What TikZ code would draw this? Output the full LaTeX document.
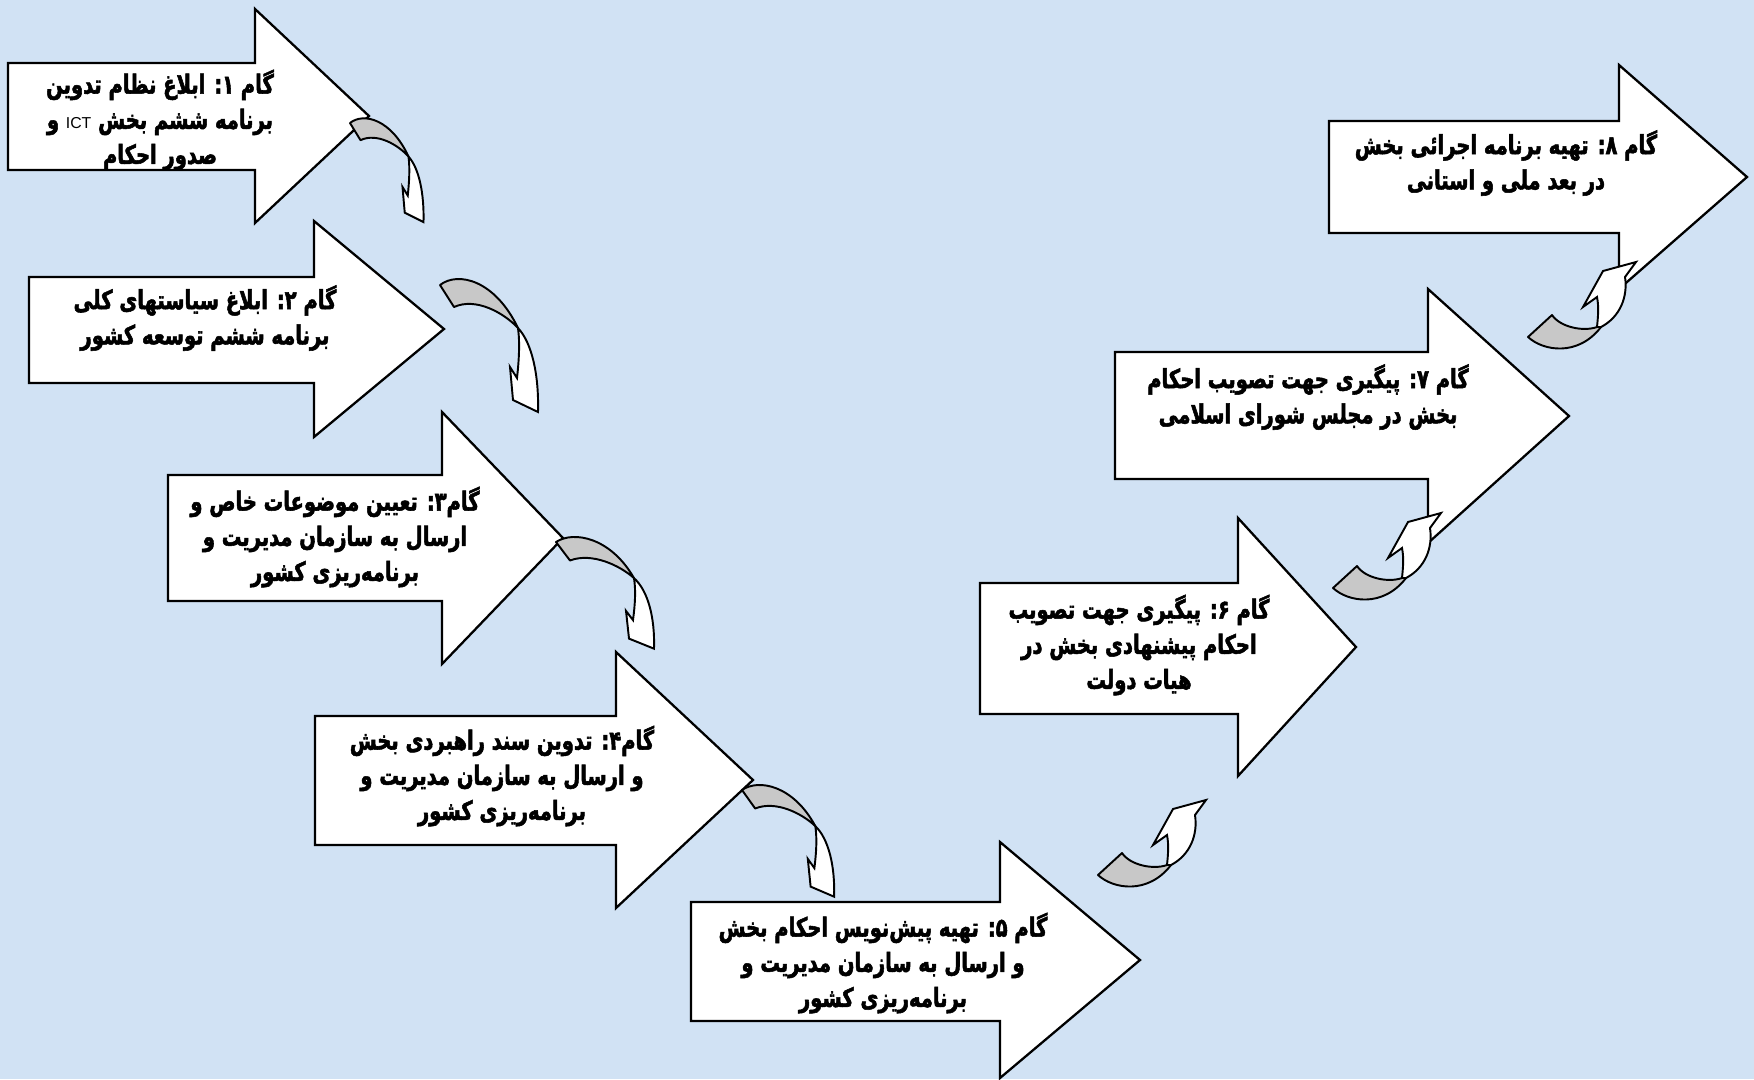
\documentclass[tikz,border=0pt]{standalone}
\usepackage{fontspec}
\newfontfamily\fafont[Script=Arabic,FakeStretch=0.74,BoldFont={DejaVu Sans Bold},BoldFeatures={FakeBold=2}]{DejaVu Sans}
\newfontfamily\latinfont{Liberation Sans}
\TeXXeTstate=1
\newcommand\rl[1]{\beginR#1\endR}
\definecolor{bgblue}{RGB}{209,226,244}
\definecolor{foldgray}{RGB}{200,200,200}
\tikzset{
  stepshape/.style={draw=black, fill=white, line width=1.3pt},
  steptext/.style={font=\fafont\bfseries\fontsize{15}{20}\selectfont, align=center, inner sep=0pt},
  foldpart/.style={draw=black, fill=foldgray, line width=1.1pt, line join=round},
  facepart/.style={draw=black, fill=white, line width=1.1pt},
}
% curved link going down, #1 = origin, #2 = scaling
\newcommand\bendown[2]{%
  \begin{scope}[shift={#1},#2]
    \draw[foldpart] (0,0) .. controls (18,-14) and (55,-5) .. (78,43)
      .. controls (64,28) and (36,12) .. (14,22) -- cycle;
    \draw[facepart] (78,43) .. controls (92,58) and (99,90) .. (98,127)
      -- (73,115) -- (70,82) -- (77,93) .. controls (79,75) and (80,58) .. (78,43) -- cycle;
  \end{scope}}
% curved link going up
\newcommand\bendup[2]{%
  \begin{scope}[shift={#1},#2]
    \draw[foldpart] (0,0) .. controls (15,14) and (50,20) .. (73,-10) -- (69,-10)
      .. controls (55,-5) and (32,-10) .. (24,-22) -- cycle;
    \draw[facepart] (69,-10) -- (73,-10) .. controls (92,-20) and (100,-40) .. (97,-60)
      -- (108,-75) -- (75,-66) -- (55,-30) -- (69,-40) .. controls (71,-30) and (70,-20) .. (69,-10) -- cycle;
  \end{scope}}

\begin{document}
\begin{tikzpicture}[x=0.02cm,y=-0.02cm]
  \fill[bgblue] (0,0) rectangle (1754,1079);
  \useasboundingbox (0,0) rectangle (1754,1079);

  % step arrows: left/top/bottom/head base/head top/tip x/tip y
  \foreach \l/\t/\b/\hb/\ht/\tx/\ty in {8/63/170/255/9/369/116, 29/277/383/314/221/444/329,
      168/475/601/442/412/563/538, 315/716/845/616/652/753/780, 691/902/1021/1000/842/1140/960,
      980/583/714/1238/518/1356/647, 1115/352/479/1428/289/1569/416, 1329/121/233/1619/65/1747/177}
    \draw[stepshape] (\l,\t) -- (\hb,\t) -- (\hb,\ht) -- (\tx,\ty) -- (\hb,{2*\ty-\ht})
      -- (\hb,\b) -- (\l,\b) -- cycle;

  % links between steps
  \bendown{(350,123)}{xscale=0.75,yscale=0.78}
  \bendown{(440,285)}{}
  \bendown{(556,542)}{yscale=0.84}
  \bendown{(742,790)}{xscale=0.94,yscale=0.84}
  \bendup{(1098,875)}{}
  \bendup{(1333,588)}{}
  \bendup{(1528,337)}{}

  \node[steptext] (s1) at (160,120) {\rl{گام ۱:  ابلاغ نظام تدوین}\\
    \rl{برنامه ششم بخش \beginL{\latinfont\mdseries\small ICT}\endL{} و}\\ \rl{صدور احکام}};
  \node[steptext] (s2) at (205,318) {\rl{گام ۲: ابلاغ سیاستهای کلی}\\ \rl{برنامه ششم توسعه کشور}};
  \node[steptext] (s3) at (335,537) {\rl{گام۳: تعیین موضوعات خاص و}\\
    \rl{ارسال به سازمان مدیریت و}\\ \rl{برنامه‌ریزی کشور}};
  \node[steptext] (s4) at (502,776) {\rl{گام۴: تدوین سند راهبردی بخش}\\
    \rl{و ارسال به سازمان مدیریت و}\\ \rl{برنامه‌ریزی کشور}};
  \node[steptext] (s5) at (883,963) {\rl{گام ۵: تهیه پیش‌نویس احکام بخش}\\
    \rl{و ارسال به سازمان مدیریت و}\\ \rl{برنامه‌ریزی کشور}};
  \node[steptext] (s6) at (1139,645) {\rl{گام ۶: پیگیری جهت تصویب}\\
    \rl{احکام پیشنهادی بخش در}\\ \rl{هیات دولت}};
  \node[steptext] (s7) at (1308,397) {\rl{گام ۷: پیگیری جهت تصویب احکام}\\
    \rl{بخش در مجلس شورای اسلامی}};
  \node[steptext] (s8) at (1506,163) {\rl{گام ۸: تهیه برنامه اجرائی بخش}\\ \rl{در بعد ملی و استانی}};
\end{tikzpicture}
\end{document}
